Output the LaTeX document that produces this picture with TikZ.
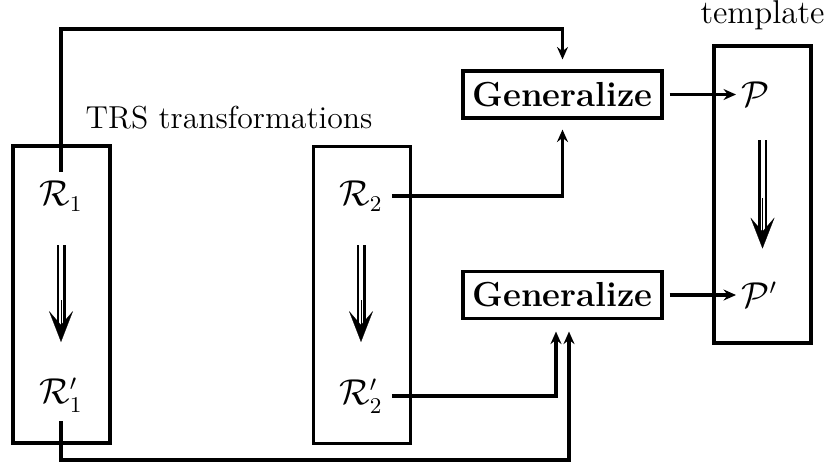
\documentclass[tikz,border=0pt]{standalone}
\usetikzlibrary{arrows.meta,calc}
\begin{document}
\begin{tikzpicture}[x=0.4pt,y=-0.4pt,
  frame/.style={draw, line width=1.25pt, minimum width=38.8pt, minimum height=118.8pt, inner sep=0pt},
  genbox/.style={draw, line width=1.25pt, minimum width=79.6pt, minimum height=18.8pt, inner sep=0pt,
    font=\fontsize{13.9}{16}\selectfont\bfseries},
  term/.style={inner sep=3.5pt, font=\fontsize{13.5}{16}\selectfont},
  caption/.style={inner sep=0pt},
  conn/.style={line width=1.25pt, -{Stealth[length=5pt, width=4.4pt, inset=1.7pt]}},
  stem/.style={double, double distance=1.6pt, line width=1pt},
  head/.style={line width=0.1pt, -{Stealth[length=12.4pt, width=9.6pt, inset=5.6pt]}},
]
\useasboundingbox (0,0) rectangle (832,462);

% frames
\node[frame] (b1) at (61.5,294.5) {};
\node[frame] (b2) at (362,295) {};
\node[frame] (b3) at (762.5,194.5) {};

% generalization steps
\node[genbox] (g1) at (562.5,94.5) {Generalize};
\node[genbox] (g2) at (562.5,295) {Generalize};

% terms
\node[term] (r1)  at (61,196) {$\mathcal{R}_1$};
\node[term] (r1p) at (61,395) {$\mathcal{R}'_1$};
\node[term] (r2)  at (361,196) {$\mathcal{R}_2$};
\node[term] (r2p) at (361,396) {$\mathcal{R}'_2$};
\node[term, anchor=west, inner sep=2pt] (p)  at (736,94.5) {$\mathcal{P}$};
\node[term, anchor=west, inner sep=2pt] (pp) at (736,295) {$\mathcal{P}'$};

% captions
\node[caption, anchor=base, font=\fontsize{12.7}{15}\selectfont] (trs) at (229,128) {TRS transformations};
\node[caption, anchor=base, font=\fontsize{13.2}{15}\selectfont] (tpl) at (762.5,23) {template};

% routing levels
\coordinate (topy) at (0,29);
\coordinate (boty) at (0,460);

% connectors
\draw[conn, shorten >=4pt] (r1.north) -- (r1.north |- topy) -| (g1.north);
\draw[conn, shorten >=4pt] (r2.east) -| (g1.south);
\draw[conn, shorten >=4.6pt] (r2p.east) -| ($(g2.south)+(-6.5,0)$);
\draw[conn, shorten >=4.6pt] (r1p.south) -- (r1p.south |- boty) -| ($(g2.south)+(6.5,0)$);
\draw[conn, shorten <=2.4pt] (g1.east) -- (p.west);
\draw[conn, shorten <=2.4pt] (g2.east) -- (pp.west);

% rewriting arrows
\draw[stem, shorten <=19.6pt, shorten >=28.4pt] (r1.center) -- (r1p.center);
\draw[head, shorten <=41.6pt, shorten >=21.2pt] (r1.center) -- (r1p.center);
\draw[stem, shorten <=19.6pt, shorten >=28.8pt] (r2.center) -- (r2p.center);
\draw[head, shorten <=41.6pt, shorten >=21.6pt] (r2.center) -- (r2p.center);
\draw[stem, shorten <=38.4pt, shorten >=46pt] (b3.north) -- (b3.south);
\draw[head, shorten <=61.6pt, shorten >=38.4pt] (b3.north) -- (b3.south);
\end{tikzpicture}
\end{document}
